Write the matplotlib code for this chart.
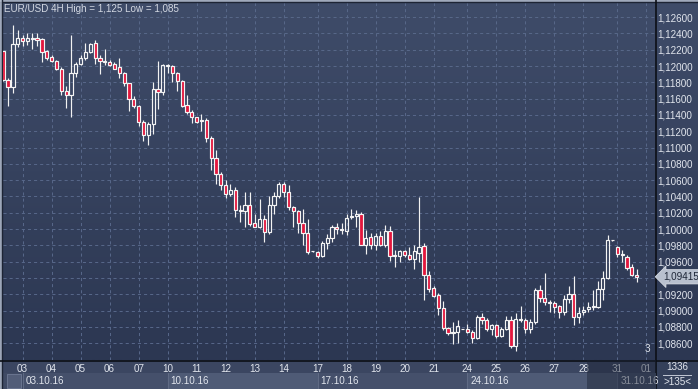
import numpy as np
import matplotlib.pyplot as plt
from matplotlib.patches import Rectangle
from matplotlib.colors import LinearSegmentedColormap
from matplotlib.ticker import FuncFormatter
from matplotlib.transforms import offset_copy, blended_transform_factory

plt.rcParams['font.family'] = ['Liberation Sans', 'DejaVu Sans']
plt.rcParams['lines.scale_dashes'] = False

# EUR/USD 4H candles, oldest first
opens = [1.1218, 1.1183, 1.1174, 1.1227, 1.1234, 1.1231, 1.1233, 1.1234, 1.1233, 1.1219,
         1.1211, 1.1206, 1.1197, 1.1170, 1.1164, 1.1192, 1.1203, 1.1210, 1.1217, 1.1228,
         1.1210, 1.1206, 1.1205, 1.1202, 1.1199, 1.1191, 1.1179, 1.1160, 1.1151, 1.1131,
         1.1116, 1.1129, 1.1172, 1.1168, 1.1200, 1.1200, 1.1191, 1.1182, 1.1152, 1.1144,
         1.1137, 1.1133, 1.1134, 1.1112, 1.1087, 1.1068, 1.1054, 1.1043, 1.1048, 1.1024,
         1.1022, 1.1030, 1.1007, 1.1003, 1.1013, 1.0996, 1.1030, 1.1041, 1.1055, 1.1045,
         1.1027, 1.1022, 1.1008, 1.0995, 1.0973, 1.0972, 1.0967, 1.0983, 1.0989, 1.1003,
         1.1000, 1.0998, 1.1015, 1.1016, 1.1018, 1.0981, 1.0990, 1.0981, 1.0992, 1.0980,
         1.0998, 1.0968, 1.0967, 1.0973, 1.0968, 1.0963, 1.0971, 1.0979, 1.0944, 1.0928,
         1.0919, 1.0903, 1.0879, 1.0873, 1.0874, 1.0878, 1.0878, 1.0874, 1.0866, 1.0892,
         1.0888, 1.0878, 1.0882, 1.0869, 1.0878, 1.0888, 1.0857, 1.0890, 1.0888, 1.0878,
         1.0886, 1.0925, 1.0916, 1.0910, 1.0909, 1.0906, 1.0898, 1.0914, 1.0920, 1.0892,
         1.0898, 1.0902, 1.0904, 1.0905, 1.0926, 1.0940, 1.0987, 1.0978, 1.0969, 1.0966,
         1.0953, 1.0944]
highs = [1.1219, 1.1185, 1.1250, 1.1244, 1.1238, 1.1240, 1.1240, 1.1241, 1.1234, 1.1220,
         1.1214, 1.1207, 1.1199, 1.1175, 1.1238, 1.1205, 1.1214, 1.1228, 1.1228, 1.1232,
         1.1214, 1.1221, 1.1207, 1.1205, 1.1210, 1.1193, 1.1179, 1.1163, 1.1152, 1.1134,
         1.1132, 1.1181, 1.1206, 1.1203, 1.1202, 1.1201, 1.1193, 1.1183, 1.1164, 1.1146,
         1.1138, 1.1141, 1.1136, 1.1114, 1.1097, 1.1070, 1.1060, 1.1055, 1.1052, 1.1030,
         1.1046, 1.1046, 1.1018, 1.1037, 1.1017, 1.1040, 1.1046, 1.1058, 1.1058, 1.1054,
         1.1028, 1.1023, 1.1025, 1.1013, 1.0973, 1.0973, 1.0985, 1.0994, 1.1005, 1.1007,
         1.1007, 1.1018, 1.1025, 1.1023, 1.1021, 1.0999, 1.0995, 1.0995, 1.0998, 1.1005,
         1.1004, 1.0974, 1.0974, 1.0974, 1.0978, 1.0980, 1.1039, 1.0983, 1.0948, 1.0930,
         1.0921, 1.0912, 1.0880, 1.0886, 1.0888, 1.0878, 1.0884, 1.0876, 1.0894, 1.0897,
         1.0891, 1.0883, 1.0883, 1.0880, 1.0893, 1.0893, 1.0897, 1.0906, 1.0891, 1.0890,
         1.0928, 1.0931, 1.0946, 1.0913, 1.0912, 1.0907, 1.0919, 1.0930, 1.0942, 1.0905,
         1.0906, 1.0911, 1.0925, 1.0936, 1.0949, 1.0993, 1.0987, 1.0979, 1.0974, 1.0968,
         1.0957, 1.0951]
lows = [1.1182, 1.1151, 1.1167, 1.1224, 1.1225, 1.1226, 1.1221, 1.1225, 1.1205, 1.1208,
        1.1205, 1.1195, 1.1164, 1.1149, 1.1138, 1.1187, 1.1201, 1.1207, 1.1216, 1.1203,
        1.1190, 1.1201, 1.1200, 1.1196, 1.1185, 1.1176, 1.1145, 1.1148, 1.1126, 1.1108,
        1.1103, 1.1117, 1.1147, 1.1164, 1.1192, 1.1181, 1.1169, 1.1150, 1.1141, 1.1130,
        1.1130, 1.1120, 1.1107, 1.1072, 1.1055, 1.1048, 1.1038, 1.1041, 1.1015, 1.1009,
        1.1003, 1.1004, 1.1002, 1.1001, 1.0984, 1.0994, 1.1019, 1.1038, 1.1039, 1.1023,
        1.1002, 1.0995, 1.0980, 1.0970, 1.0972, 1.0964, 1.0966, 1.0976, 1.0984, 1.0994,
        1.0994, 1.0993, 1.1013, 1.1003, 1.0980, 1.0970, 1.0976, 1.0974, 1.0979, 1.0978,
        1.0961, 1.0954, 1.0960, 1.0966, 1.0962, 1.0951, 1.0960, 1.0913, 1.0923, 1.0917,
        1.0894, 1.0876, 1.0870, 1.0859, 1.0860, 1.0877, 1.0873, 1.0860, 1.0865, 1.0884,
        1.0875, 1.0870, 1.0867, 1.0868, 1.0876, 1.0854, 1.0850, 1.0886, 1.0873, 1.0873,
        1.0883, 1.0910, 1.0907, 1.0898, 1.0897, 1.0891, 1.0895, 1.0909, 1.0882, 1.0885,
        1.0895, 1.0898, 1.0901, 1.0903, 1.0913, 1.0939, 1.0986, 1.0966, 1.0960, 1.0950,
        1.0942, 1.0935]
closes = [1.1183, 1.1174, 1.1227, 1.1234, 1.1231, 1.1234, 1.1234, 1.1232, 1.1217, 1.1210,
          1.1206, 1.1197, 1.1170, 1.1164, 1.1192, 1.1203, 1.1210, 1.1217, 1.1227, 1.1210,
          1.1206, 1.1205, 1.1201, 1.1197, 1.1191, 1.1179, 1.1160, 1.1151, 1.1131, 1.1116,
          1.1129, 1.1172, 1.1168, 1.1201, 1.1201, 1.1191, 1.1182, 1.1151, 1.1144, 1.1138,
          1.1131, 1.1134, 1.1112, 1.1087, 1.1068, 1.1054, 1.1043, 1.1048, 1.1024, 1.1022,
          1.1030, 1.1006, 1.1003, 1.1013, 1.0996, 1.1030, 1.1041, 1.1055, 1.1045, 1.1027,
          1.1022, 1.1008, 1.0995, 1.0972, 1.0973, 1.0967, 1.0983, 1.0989, 1.1002, 1.1000,
          1.0999, 1.1014, 1.1016, 1.1018, 1.0981, 1.0989, 1.0981, 1.0992, 1.0980, 1.0998,
          1.0967, 1.0967, 1.0973, 1.0968, 1.0963, 1.0973, 1.0978, 1.0944, 1.0927, 1.0918,
          1.0903, 1.0879, 1.0873, 1.0874, 1.0881, 1.0878, 1.0874, 1.0866, 1.0892, 1.0889,
          1.0878, 1.0882, 1.0869, 1.0878, 1.0888, 1.0857, 1.0890, 1.0888, 1.0878, 1.0886,
          1.0925, 1.0916, 1.0910, 1.0909, 1.0904, 1.0898, 1.0914, 1.0920, 1.0892, 1.0897,
          1.0901, 1.0904, 1.0906, 1.0926, 1.0940, 1.0987, 1.0987, 1.0969, 1.0968, 1.0952,
          1.0944, 1.09415]

# candle index where each trading day starts
day_labels = ['03', '04', '05', '06', '07', '10', '11', '12', '13', '14', '17',
              '18', '19', '20', '21', '24', '25', '26', '27', '28', '31', '01']
day_pos = [4, 10, 16, 22, 28, 34, 40, 46, 52, 58, 65,
           71, 77, 83, 89, 96, 102, 108, 114, 120, 127, 133]
week_labels = ['03.10.16', '10.10.16', '17.10.16', '24.10.16', '31.10.16']
week_pos = [4, 34, 65, 96, 127]

last_price = 1.09415
title = 'EUR/USD 4H High = 1,125 Low = 1,085'
bars_total = '1336'
bars_shown = '>135<'

W, H = 698, 389
FS = 7.1
txt = '#e2e6ee'
fig = plt.figure(figsize=(W / 100, H / 100), dpi=100)

# background, in pixel coords (y down)
bg = fig.add_axes([0, 0, 1, 1])
cmap = LinearSegmentedColormap.from_list('bg', ['#3f4c69', '#2c3752'])
bg.imshow(np.linspace(0, 1, 256)[:, None], cmap=cmap, extent=[0, W, 360, 0],
          aspect='auto', interpolation='bilinear')
bg.add_patch(Rectangle((0, 360), W, 13, fc='#3b4661', ec='none'))
bg.add_patch(Rectangle((0, 373), W, 16, fc='#3f4a64', ec='none'))
bg.add_patch(Rectangle((656, 360), W - 656, 29, fc='#34405a', ec='none'))
bg.add_patch(Rectangle((7, 374), 14, 14, fc='#525d78', ec='#6a7590', lw=0.7))
bg.plot([0, W], [0.5, 0.5], color='#b3bccc', lw=1.2)
bg.plot([0, W], [2.2, 2.2], color='#1d2434', lw=1)
bg.plot([0.5, 0.5], [0, H], color='#b3bccc', lw=1.2)
bg.plot([2.2, 2.2], [0, H], color='#1d2434', lw=1)
bg.plot([0, W], [360.5, 360.5], color='#0c0f16', lw=1.2)
bg.plot([656, 656], [0, H], color='#0c0f16', lw=1.2)
bg.plot([663, 691], [374.5, 374.5], color='#c3c9d5', lw=0.7)
bg.set_xlim(0, W)
bg.set_ylim(H, 0)
bg.axis('off')

ax = fig.add_axes([3 / W, (H - 360) / H, 653 / W, 357 / H])
ax.patch.set_alpha(0)
for s in ax.spines.values():
    s.set_visible(False)

o = np.array(opens)
c = np.array(closes)
hi = np.array(highs)
lo = np.array(lows)
idx = np.arange(len(o))
top = np.maximum(o, c)
bot = np.minimum(o, c)
face = ['#e3173d' if cc < oo else 'none' for oo, cc in zip(o, c)]

ax.vlines(idx, top, hi, color='#f2f2f2', lw=0.85, zorder=3)
ax.vlines(idx, lo, bot, color='#f2f2f2', lw=0.85, zorder=3)
ax.bar(idx, np.maximum(top - bot, 1e-6), bottom=bot, width=0.66, color=face,
       edgecolor='#f4f4f4', linewidth=0.85, zorder=4)


def price_fmt(v, pos):
    # the 1,09400 label sits under the current-price tag
    if abs(v - 1.094) < 1e-6:
        return ''
    return ('%.5f' % v).replace('.', ',')


ax.set_xlim(-0.05, 135)
ax.set_ylim(1.08394, 1.12774)
ax.set_yticks(np.arange(1.086, 1.1261, 0.002))
ax.yaxis.set_major_formatter(FuncFormatter(price_fmt))
ax.yaxis.tick_right()
ax.set_xticks(day_pos)
ax.set_xticklabels(day_labels)
ax.tick_params(axis='y', length=0, pad=1.2, labelsize=FS, labelcolor=txt)
ax.tick_params(axis='x', length=0, pad=3.2, labelsize=FS, labelcolor=txt)
ax.set_axisbelow(True)
ax.grid(True, color='#58688a', linestyle=(0, (2.2, 2.2)), linewidth=0.7)

# current price tag
tr = offset_copy(blended_transform_factory(ax.transAxes, ax.transData), fig=fig,
                 x=7, y=0, units='dots')
ax.text(1.0, last_price, ('%.5f' % last_price).replace('.', ','), transform=tr,
        ha='left', va='center', fontsize=FS, color='#1f2738', clip_on=False,
        bbox=dict(boxstyle='larrow,pad=0.22', fc='#b8c0ce', ec='#dfe3ea', lw=0.5))

ax.text(0.986, 0.03, '3', transform=ax.transAxes, fontsize=FS, color=txt,
        ha='center', va='center')

# week row
bx = fig.add_axes([3 / W, 0, 653 / W, 16 / H])
bx.set_xlim(ax.get_xlim())
bx.set_ylim(0, 1)
bx.axis('off')
ends = week_pos[1:] + [135]
for k, (a, b) in enumerate(zip(week_pos, ends)):
    bx.axvspan(a, b, color='#4f5b76' if k % 2 else '#45506b', lw=0)
    bx.axvline(a, color='#5f6a84', lw=0.8)
    bx.text(a + 0.6, 0.5, week_labels[k], fontsize=FS, color=txt,
            ha='left', va='center')

fig.add_artist(Rectangle((587 / W, 0), 69 / W, 29 / H, transform=fig.transFigure,
                         fc='#1a2233', alpha=0.45, ec='none'))

fig.text(4 / W, 1 - 8.5 / H, title, fontsize=FS, color='#d3d8e2', ha='left', va='center')
fig.text(677 / W, 1 - 367.5 / H, bars_total, fontsize=FS, color=txt, ha='center', va='center')
fig.text(677 / W, 1 - 382 / H, bars_shown, fontsize=FS, color=txt, ha='center', va='center')

fig.savefig('out.png', dpi=100, facecolor='#323d57')
